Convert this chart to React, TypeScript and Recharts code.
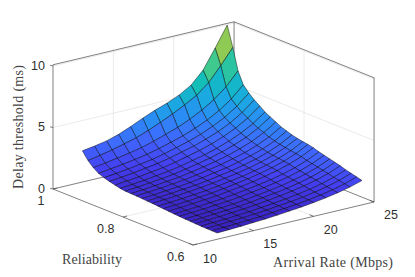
import { Scatter, ScatterChart, XAxis, YAxis } from "recharts";

const WIDTH = 415;
const HEIGHT = 277;

// grid of the surface
const arrivalRates = [12, 13, 14, 15, 16, 17, 18, 19, 20, 21, 22, 23, 24];
const reliabilities = [
  0.6, 0.615, 0.631, 0.646, 0.662, 0.677, 0.692, 0.708, 0.723, 0.739, 0.754, 0.769, 0.785,
  0.8, 0.815, 0.831, 0.846, 0.862, 0.877, 0.892, 0.908, 0.923, 0.939, 0.954, 0.969, 0.985,
];

// one row per reliability, one column per arrival rate (ms)
const delayThreshold = [
  [0.51, 0.55, 0.6, 0.66, 0.72, 0.8, 0.9, 1.0, 1.12, 1.27, 1.45, 1.68, 1.98],
  [0.52, 0.56, 0.61, 0.67, 0.73, 0.82, 0.92, 1.03, 1.16, 1.32, 1.52, 1.77, 2.1],
  [0.53, 0.57, 0.63, 0.69, 0.76, 0.85, 0.96, 1.07, 1.21, 1.38, 1.59, 1.86, 2.21],
  [0.54, 0.59, 0.64, 0.71, 0.78, 0.88, 0.99, 1.12, 1.26, 1.44, 1.66, 1.95, 2.32],
  [0.56, 0.61, 0.67, 0.74, 0.82, 0.92, 1.05, 1.18, 1.34, 1.53, 1.77, 2.07, 2.47],
  [0.58, 0.63, 0.7, 0.77, 0.85, 0.96, 1.09, 1.23, 1.39, 1.59, 1.84, 2.16, 2.58],
  [0.6, 0.66, 0.72, 0.8, 0.88, 1.0, 1.13, 1.28, 1.45, 1.66, 1.92, 2.25, 2.69],
  [0.63, 0.69, 0.76, 0.84, 0.92, 1.04, 1.18, 1.33, 1.51, 1.73, 2.0, 2.35, 2.8],
  [0.66, 0.72, 0.79, 0.87, 0.96, 1.09, 1.23, 1.39, 1.57, 1.8, 2.08, 2.44, 2.91],
  [0.7, 0.76, 0.84, 0.93, 1.02, 1.15, 1.3, 1.46, 1.66, 1.9, 2.19, 2.57, 3.06],
  [0.73, 0.79, 0.87, 0.96, 1.06, 1.19, 1.35, 1.52, 1.72, 1.96, 2.26, 2.65, 3.16],
  [0.77, 0.83, 0.91, 1.0, 1.1, 1.24, 1.4, 1.56, 1.77, 2.01, 2.32, 2.71, 3.22],
  [0.81, 0.88, 0.96, 1.05, 1.15, 1.28, 1.45, 1.61, 1.82, 2.07, 2.38, 2.78, 3.3],
  [0.83, 0.9, 0.98, 1.08, 1.18, 1.32, 1.49, 1.66, 1.88, 2.14, 2.46, 2.87, 3.41],
  [0.86, 0.93, 1.02, 1.12, 1.23, 1.38, 1.55, 1.73, 1.96, 2.23, 2.56, 2.98, 3.56],
  [0.89, 0.96, 1.05, 1.16, 1.27, 1.43, 1.61, 1.8, 2.04, 2.32, 2.67, 3.12, 3.71],
  [0.91, 0.99, 1.09, 1.2, 1.32, 1.49, 1.68, 1.89, 2.14, 2.45, 2.82, 3.31, 3.94],
  [0.93, 1.02, 1.12, 1.24, 1.37, 1.55, 1.76, 1.98, 2.25, 2.58, 2.97, 3.49, 4.17],
  [0.98, 1.07, 1.18, 1.31, 1.44, 1.63, 1.85, 2.08, 2.37, 2.72, 3.14, 3.68, 4.4],
  [1.08, 1.18, 1.29, 1.43, 1.57, 1.77, 2.01, 2.26, 2.56, 2.93, 3.38, 3.96, 4.72],
  [1.2, 1.3, 1.42, 1.57, 1.72, 1.93, 2.18, 2.44, 2.76, 3.14, 3.61, 4.23, 5.03],
  [1.33, 1.44, 1.57, 1.72, 1.88, 2.11, 2.38, 2.65, 2.99, 3.41, 3.91, 4.57, 5.42],
  [1.5, 1.62, 1.76, 1.92, 2.1, 2.34, 2.62, 2.92, 3.29, 3.73, 4.28, 4.98, 5.9],
  [1.8, 1.93, 2.1, 2.28, 2.49, 2.77, 3.09, 3.43, 3.86, 4.37, 4.99, 5.8, 6.86],
  [2.2, 2.38, 2.6, 2.85, 3.12, 3.48, 3.9, 4.35, 4.85, 5.4, 6.2, 7.35, 8.6],
  [2.81, 2.96, 3.15, 3.45, 3.85, 4.3, 4.7, 5.05, 5.47, 6.05, 7.04, 8.6, 10.24],
];

const rateTicks = [10, 15, 20, 25];
const reliabilityTicks = [0.6, 0.8, 1];
const delayTicks = [0, 5, 10];

const RATE_MIN = 10;
const RATE_MAX = 25;
const REL_MIN = 0.6;
const REL_MAX = 1;
const DELAY_TOP = 10.1;

// parula, sampled every 0.1, low end pushed a bit to match the picture
const parula = [
  [58, 34, 192],
  [68, 62, 240],
  [64, 102, 255],
  [42, 140, 245],
  [26, 170, 225],
  [18, 190, 185],
  [72, 203, 134],
  [140, 203, 85],
  [218, 186, 45],
  [253, 190, 60],
  [249, 251, 14],
];

// orthographic view of the box, in chart units
function project(rate: number, rel: number, delay: number) {
  return {
    sx: 193 + (rate - RATE_MIN) * 12.07 - (rel - REL_MIN) * 350,
    sy: 245 - (rate - RATE_MIN) * 2.867 - (rel - REL_MIN) * 140 - delay * 12.3,
  };
}

function colorOf(delay: number) {
  const t = Math.min(1, Math.max(0, (delay - 0.51) / (10.24 - 0.51))) * 10;
  const i = Math.min(9, Math.floor(t));
  const c = parula[i].map((v, k) => Math.round(v + (parula[i + 1][k] - v) * (t - i)));
  return `rgb(${c[0]},${c[1]},${c[2]})`;
}

// far cells first so that near ones paint over them
const cells: any[] = [];
for (let r = reliabilities.length - 2; r >= 0; r--) {
  for (let a = arrivalRates.length - 2; a >= 0; a--) {
    const corners = [
      project(arrivalRates[a], reliabilities[r], delayThreshold[r][a]),
      project(arrivalRates[a + 1], reliabilities[r], delayThreshold[r][a + 1]),
      project(arrivalRates[a + 1], reliabilities[r + 1], delayThreshold[r + 1][a + 1]),
      project(arrivalRates[a], reliabilities[r + 1], delayThreshold[r + 1][a]),
    ];
    cells.push({ ...corners[0], corners, fill: colorOf(delayThreshold[r][a]) });
  }
}

function Face(props: any) {
  const { cx, cy, payload } = props;
  const points = payload.corners
    .map((p: any) => `${cx + p.sx - payload.sx},${cy + p.sy - payload.sy}`)
    .join(" ");
  return <polygon points={points} fill={payload.fill} stroke="#000" strokeWidth={0.45} strokeLinejoin="round" />;
}

function Label(props: any) {
  const { cx, cy, payload } = props;
  return (
    <text
      x={cx + (payload.dx || 0)}
      y={cy + (payload.dy || 0)}
      textAnchor={payload.anchor}
      dominantBaseline="central"
      fontFamily="'Liberation Sans', Arial, sans-serif"
      fontSize={12.5}
      fill="#303030"
    >
      {payload.text}
    </text>
  );
}

function Title(props: any) {
  const { cx, cy, payload } = props;
  return (
    <text
      x={cx}
      y={cy}
      textAnchor="middle"
      dominantBaseline="central"
      fontFamily="'Liberation Serif', serif"
      fontSize={14}
      fill="#444"
      textLength={payload.length}
      lengthAdjust="spacing"
      transform={payload.rotate ? `rotate(-90 ${cx} ${cy})` : undefined}
    >
      {payload.text}
    </text>
  );
}

const noMark = () => null;

const GRID = "#e4e4e4";
const BOX = "#4a4a4a";

const gridLines = [
  // back wall at reliability 1
  ...rateTicks.slice(1, 3).map((v) => [project(v, REL_MAX, 0), project(v, REL_MAX, DELAY_TOP)]),
  ...delayTicks.slice(1).map((v) => [project(RATE_MIN, REL_MAX, v), project(RATE_MAX, REL_MAX, v)]),
  // right wall at rate 25
  [project(RATE_MAX, 0.8, 0), project(RATE_MAX, 0.8, DELAY_TOP)],
  ...delayTicks.slice(1).map((v) => [project(RATE_MAX, REL_MIN, v), project(RATE_MAX, REL_MAX, v)]),
  // floor
  [project(RATE_MIN, 0.8, 0), project(RATE_MAX, 0.8, 0)],
  ...rateTicks.slice(1, 3).map((v) => [project(v, REL_MIN, 0), project(v, REL_MAX, 0)]),
];

const boxLines = [
  [project(RATE_MIN, REL_MAX, 0), project(RATE_MIN, REL_MAX, DELAY_TOP)],
  [project(RATE_MIN, REL_MAX, DELAY_TOP), project(RATE_MAX, REL_MAX, DELAY_TOP)],
  [project(RATE_MAX, REL_MAX, DELAY_TOP), project(RATE_MAX, REL_MIN, DELAY_TOP)],
  [project(RATE_MAX, REL_MIN, DELAY_TOP), project(RATE_MAX, REL_MIN, 0)],
  [project(RATE_MAX, REL_MAX, 0), project(RATE_MAX, REL_MAX, DELAY_TOP)],
  [project(RATE_MIN, REL_MAX, 0), project(RATE_MAX, REL_MAX, 0)],
  [project(RATE_MAX, REL_MAX, 0), project(RATE_MAX, REL_MIN, 0)],
];

const axisLines = [
  [project(RATE_MIN, REL_MAX, 0), project(RATE_MIN, REL_MIN, 0)],
  [project(RATE_MIN, REL_MIN, 0), project(RATE_MAX, REL_MIN, 0)],
  // tick marks
  ...reliabilityTicks.map((v) => [project(RATE_MIN, v, 0), project(RATE_MIN + 0.35, v, 0)]),
  ...rateTicks.map((v) => [project(v, REL_MIN, 0), project(v, REL_MIN + 0.012, 0)]),
  ...delayTicks.map((v) => {
    const p = project(RATE_MIN, REL_MAX, v);
    return [p, { sx: p.sx - 3, sy: p.sy - 0.7 }];
  }),
];

const tickLabels = [
  ...delayTicks.map((v) => ({ ...project(RATE_MIN, REL_MAX, v), text: String(v), anchor: "end", dx: -8, dy: -0.5 })),
  ...reliabilityTicks.map((v) => ({ ...project(RATE_MIN, v, 0), text: String(v), anchor: "end", dx: -8.5, dy: 11.5 })),
  ...rateTicks.map((v) => ({ ...project(v, REL_MIN, 0), text: String(v), anchor: "start", dx: 10, dy: 13.5 })),
];

const axisTitles = [
  { sx: 18, sy: 127, text: "Delay threshold (ms)", length: 124, rotate: true },
  { sx: 92, sy: 259, text: "Reliability", length: 60, rotate: false },
  { sx: 333, sy: 262, text: "Arrival Rate (Mbps)", length: 120, rotate: false },
];

function segment(points: any[], key: string, stroke: string, width: number) {
  return (
    <Scatter
      key={key}
      data={points}
      line={{ stroke, strokeWidth: width }}
      shape={noMark}
      isAnimationActive={false}
    />
  );
}

export default function App() {
  return (
    <div style={{ position: "absolute", left: 0, top: 0, width: WIDTH, height: HEIGHT, background: "#fff" }}>
      <ScatterChart width={WIDTH} height={HEIGHT} margin={{ top: 0, right: 0, bottom: 0, left: 0 }}>
        <XAxis type="number" dataKey="sx" domain={[0, WIDTH]} hide />
        <YAxis type="number" dataKey="sy" domain={[0, HEIGHT]} reversed hide />
        {gridLines.map((s, i) => segment(s, `grid-${i}`, GRID, 0.8))}
        {boxLines.map((s, i) => segment(s, `box-${i}`, BOX, 0.7))}
        <Scatter data={cells} shape={Face} isAnimationActive={false} />
        {axisLines.map((s, i) => segment(s, `axis-${i}`, BOX, 0.7))}
        <Scatter data={tickLabels} shape={Label} isAnimationActive={false} />
        <Scatter data={axisTitles} shape={Title} isAnimationActive={false} />
      </ScatterChart>
    </div>
  );
}
